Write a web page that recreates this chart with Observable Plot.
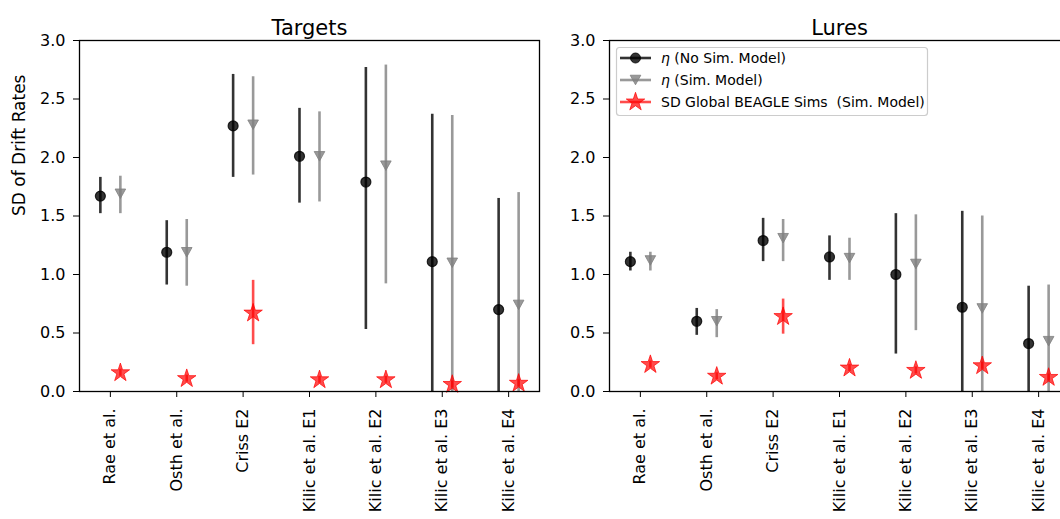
<!DOCTYPE html>
<html><head><meta charset="utf-8">
<script src="https://cdn.jsdelivr.net/npm/d3@7"></script>
<script src="https://cdn.jsdelivr.net/npm/@observablehq/plot@0.6"></script>
<style>
body{margin:0;background:#fff;overflow:hidden;font-family:"DejaVu Sans",sans-serif;}
#wrap{position:relative;width:1060px;height:519px;overflow:hidden;background:#fff;}
#left{position:absolute;left:0;top:0;width:540px;height:519px;}
#right{position:absolute;left:540px;top:0;width:529px;height:519px;}
#legend{position:absolute;left:0;top:0;}
svg{max-width:none !important;}
</style></head><body>
<div id="wrap"><div id="left"></div><div id="right"></div><svg id="legend" width="1060" height="519"></svg></div>
<script>
const categories = ["Rae et al.", "Osth et al.", "Criss E2", "Kilic et al. E1", "Kilic et al. E2", "Kilic et al. E3", "Kilic et al. E4"];
const yTicks = [0, 0.5, 1.0, 1.5, 2.0, 2.5, 3.0];

// Targets
const targetsNoSim   = [1.67, 1.19, 2.27, 2.01, 1.79, 1.11, 0.70];
const targetsNoSimLo = [1.52, 0.91, 1.83, 1.61, 0.53, 0.00, 0.00];
const targetsNoSimHi = [1.83, 1.46, 2.71, 2.42, 2.77, 2.37, 1.65];
const targetsSim     = [1.69, 1.19, 2.28, 2.01, 1.93, 1.10, 0.74];
const targetsSimLo   = [1.52, 0.90, 1.85, 1.62, 0.92, 0.00, 0.00];
const targetsSimHi   = [1.84, 1.47, 2.69, 2.39, 2.79, 2.36, 1.70];
const targetsBeagle   = [0.16, 0.11, 0.67, 0.10, 0.10, 0.06, 0.07];
const targetsBeagleLo = [0.13, 0.08, 0.40, 0.07, 0.07, 0.03, 0.04];
const targetsBeagleHi = [0.19, 0.14, 0.95, 0.13, 0.13, 0.09, 0.10];

// Lures
const luresNoSim   = [1.11, 0.60, 1.29, 1.15, 1.00, 0.72, 0.41];
const luresNoSimLo = [1.03, 0.48, 1.11, 0.95, 0.32, 0.00, 0.00];
const luresNoSimHi = [1.19, 0.71, 1.48, 1.33, 1.52, 1.54, 0.90];
const luresSim     = [1.12, 0.60, 1.31, 1.14, 1.09, 0.71, 0.43];
const luresSimLo   = [1.03, 0.46, 1.11, 0.95, 0.52, 0.00, 0.00];
const luresSimHi   = [1.19, 0.70, 1.47, 1.31, 1.51, 1.50, 0.91];
const luresBeagle   = [0.23, 0.13, 0.64, 0.20, 0.18, 0.22, 0.12];
const luresBeagleLo = [0.20, 0.10, 0.49, 0.17, 0.15, 0.19, 0.09];
const luresBeagleHi = [0.26, 0.16, 0.79, 0.23, 0.21, 0.25, 0.15];

const legendLabels = ["(No Sim. Model)", "(Sim. Model)", "SD Global BEAGLE Sims  (Sim. Model)"];

const triangleDown = {
  draw(ctx, size) {
    const r = Math.sqrt(size / Math.PI);
    ctx.moveTo(-r, -r * 0.9);
    ctx.lineTo(r, -r * 0.9);
    ctx.lineTo(0, r * 0.9);
    ctx.closePath();
  }
};

function rows(v, lo, hi) {
  return categories.map((c, i) => ({i, v: v[i], lo: lo[i], hi: hi[i]}));
}

function panel(title, s1, s2, s3, opts) {
  const a = rows(...s1), b = rows(...s2), c = rows(...s3);
  return Plot.plot({
    width: opts.width, height: 519,
    marginLeft: opts.marginLeft, marginRight: opts.marginRight,
    marginTop: 40, marginBottom: 128,
    style: {fontFamily: "DejaVu Sans", fontSize: "16px", color: "#000", background: "transparent", overflow: "visible", maxWidth: "none"},
    x: {domain: [-0.465, 6.465]},
    y: {domain: [0, 3]},
    marks: [
      Plot.axisY({ticks: yTicks, tickFormat: d3.format(".1f"), tickSize: 6, tickPadding: 8, fontSize: 16, label: null}),
      Plot.axisX({ticks: d3.range(categories.length), tickFormat: i => categories[i], tickRotate: -90,
        tickSize: 6, tickPadding: 11, fontSize: 16, label: null}),
      opts.ylabel ? Plot.text([opts.ylabel], {frameAnchor: "left", dx: -60, rotate: -90, fontSize: 17, fill: "black"}) : null,
      Plot.ruleX(a, {x: "i", y1: "lo", y2: "hi", dx: -10, stroke: "black", strokeOpacity: 0.8, strokeWidth: 2.6}),
      Plot.dot(a, {x: "i", y: "v", dx: -10, r: 5, symbol: "circle", fill: "black", fillOpacity: 0.8, stroke: "black", strokeOpacity: 0.8, strokeWidth: 1.2}),
      Plot.ruleX(b, {x: "i", y1: "lo", y2: "hi", dx: 10, stroke: "#808080", strokeOpacity: 0.8, strokeWidth: 2.6}),
      Plot.dot(b, {x: "i", y: "v", dx: 10, r: 5.3, symbol: triangleDown, fill: "#808080", fillOpacity: 0.8, stroke: "#808080", strokeOpacity: 0.8, strokeWidth: 1}),
      Plot.ruleX(c, {x: "i", y1: "lo", y2: "hi", dx: 10, stroke: "red", strokeOpacity: 0.7, strokeWidth: 2.6}),
      Plot.dot(c, {x: "i", y: "v", dx: 10, r: 5.8, symbol: "star", fill: "red", fillOpacity: 0.7, stroke: "red", strokeOpacity: 0.7, strokeWidth: 1}),
      Plot.frame({stroke: "black", strokeWidth: 1.3}),
      Plot.text([title], {frameAnchor: "top", dy: -20, fontSize: 21, fill: "black"})
    ]
  });
}

document.getElementById("left").append(panel("Targets",
  [targetsNoSim, targetsNoSimLo, targetsNoSimHi],
  [targetsSim, targetsSimLo, targetsSimHi],
  [targetsBeagle, targetsBeagleLo, targetsBeagleHi],
  {width: 540, marginLeft: 79, marginRight: 1, ylabel: "SD of Drift Rates"}));

document.getElementById("right").append(panel("Lures",
  [luresNoSim, luresNoSimLo, luresNoSimHi],
  [luresSim, luresSimLo, luresSimHi],
  [luresBeagle, luresBeagleLo, luresBeagleHi],
  {width: 529, marginLeft: 69, marginRight: 0, ylabel: null}));

// Legend (overlay)
const lg = d3.select("#legend");
lg.append("rect").attr("x", 616.5).attr("y", 47.5).attr("width", 311).attr("height", 68).attr("rx", 3)
  .attr("fill", "white").attr("fill-opacity", 0.8).attr("stroke", "#ccc").attr("stroke-width", 1.2);
const rowsY = [58, 80, 102];
const colors = [["black", 0.8], ["#808080", 0.8], ["red", 0.7]];
const syms = [d3.symbol(d3.symbolCircle, 25 * Math.PI), d3.symbol(triangleDown, 5.3 * 5.3 * Math.PI), d3.symbol(d3.symbolStar, 5.8 * 5.8 * Math.PI)];
legendLabels.forEach((lab, k) => {
  const [col, op] = colors[k];
  lg.append("line").attr("x1", 620).attr("x2", 651).attr("y1", rowsY[k]).attr("y2", rowsY[k])
    .attr("stroke", col).attr("stroke-opacity", op).attr("stroke-width", 2.6);
  lg.append("path").attr("d", syms[k]()).attr("transform", `translate(635.5,${rowsY[k]})`)
    .attr("fill", col).attr("fill-opacity", op).attr("stroke", col).attr("stroke-opacity", op);
  const t = lg.append("text").attr("x", 661).attr("y", rowsY[k]).attr("dy", "0.35em")
    .attr("font-family", "DejaVu Sans").attr("font-size", 14).attr("fill", "black");
  if (k < 2) {
    t.append("tspan").attr("font-style", "italic").text("η");
    t.append("tspan").text(" " + lab);
  } else {
    t.attr("xml:space", "preserve").style("white-space", "pre").text(lab);
  }
});
</script>
</body></html>
